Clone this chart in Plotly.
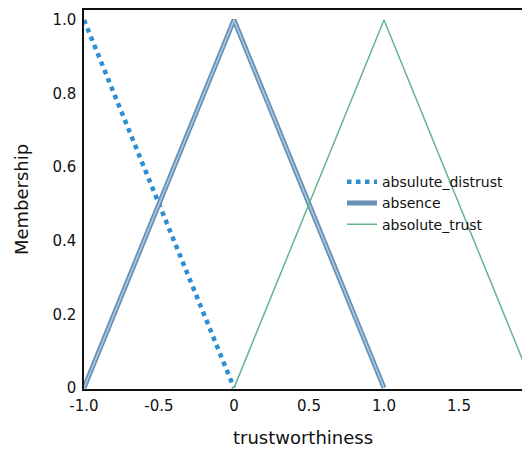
import plotly.graph_objects as go

x_distrust = [-1.0, 0.0]
y_distrust = [1.0, 0.0]
x_absence = [-1.0, 0.0, 1.0]
y_absence = [0.0, 1.0, 0.0]
x_trust = [0.0, 1.0, 2.0]
y_trust = [0.0, 1.0, 0.0]

x_tickvals = [-1.0, -0.5, 0.0, 0.5, 1.0, 1.5]
x_ticktext = ["-1.0", "-0.5", "0", "0.5", "1.0", "1.5"]
y_tickvals = [0, 0.2, 0.4, 0.6, 0.8, 1.0]
y_ticktext = ["0", "0.2", "0.4", "0.6", "0.8", "1.0"]

FONT = "DejaVu Sans"

fig = go.Figure()
fig.add_trace(go.Scatter(x=x_distrust, y=y_distrust, mode="lines", name="absulute_distrust",
                         line=dict(color="#2b8fd1", width=4.5, dash="dot")))
fig.add_trace(go.Scatter(x=x_absence, y=y_absence, mode="lines", name="absence",
                         legendgroup="abs", line=dict(color="#6a90b4", width=5)))
fig.add_trace(go.Scatter(x=x_absence, y=y_absence, mode="lines", name="absence",
                         legendgroup="abs", showlegend=False,
                         line=dict(color="#a9cbe6", width=1.5)))
fig.add_trace(go.Scatter(x=x_trust, y=y_trust, mode="lines", name="absolute_trust",
                         line=dict(color="#64b58a", width=1.5)))

fig.update_layout(
    width=524, height=450,
    margin=dict(l=84, r=2, t=10, b=61, autoexpand=False),
    paper_bgcolor="white", plot_bgcolor="white",
    font=dict(family=FONT, size=15, color="#111"),
    legend=dict(x=0.589, y=0.588, xanchor="left", yanchor="top",
                bgcolor="rgba(0,0,0,0)", font=dict(size=14), tracegroupgap=0,
                itemwidth=30),
    xaxis=dict(range=[-1.0, 1.92], tickvals=x_tickvals, ticktext=x_ticktext,
               showgrid=False, zeroline=False, showline=True, linecolor="#111",
               linewidth=1.5, mirror=True, ticks="", automargin=False,
               ticklabelstandoff=2,
               title=dict(text="trustworthiness", standoff=18)),
    yaxis=dict(range=[-0.003, 1.027], tickvals=y_tickvals, ticktext=y_ticktext,
               showgrid=False, zeroline=False, showline=True, linecolor="#111",
               linewidth=1.5, ticks="", automargin=False,
               ticklabelstandoff=3,
               title=dict(text="Membership", standoff=19)),
)

fig.write_html("out.html", config={"displayModeBar": False},
               post_script="document.body.style.margin='0px';")
